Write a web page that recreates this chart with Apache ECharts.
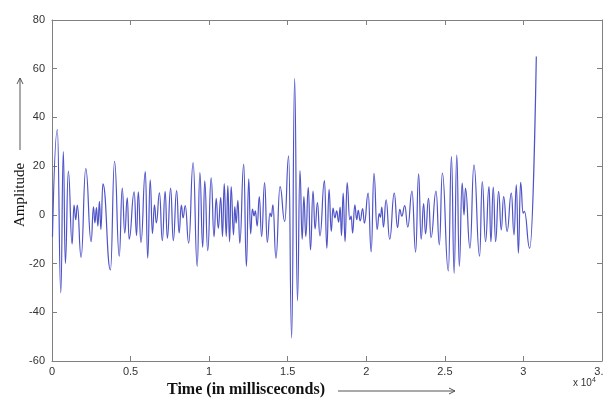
<!DOCTYPE html>
<html>
<head>
<meta charset="utf-8">
<script src="https://cdn.jsdelivr.net/npm/echarts@6/dist/echarts.min.js"></script>
<style>
  html, body { margin: 0; padding: 0; background: #ffffff; }
  #chart { width: 604px; height: 401px; }
</style>
</head>
<body>
<div id="chart"></div>
<script>
// Sample times (ms) of the signal's turning points
const timeMs = [
  30, 340, 560, 720, 850, 1040, 1280, 1400, 1510, 1610,
  1850, 2150, 2490, 2640, 2730, 2830, 2920, 3020, 3110, 3240,
  3720, 3980, 4280, 4470, 4630, 4790, 4910, 5230, 5380, 5490,
  5660, 5940, 6090, 6250, 6390, 6520, 6640, 6840, 7020, 7200,
  7340, 7550, 7720, 7930, 8090, 8230, 8340, 8480, 8700, 8980,
  9240, 9410, 9590, 9720, 9910, 10130, 10310, 10450, 10580, 10740,
  10850, 10960, 11090, 11190, 11300, 11400, 11550, 11630, 11720, 11830,
  11950, 12200, 12370, 12520, 12640, 12750, 12860, 12940, 13060, 13190,
  13340, 13530, 13700, 13870, 13960, 14060, 14250, 14510, 14810, 15060,
  15250, 15440, 15620, 15780, 15920, 16030, 16150, 16310, 16450, 16610,
  16740, 16890, 17050, 17340, 17490, 17630, 17770, 17880, 18000, 18120,
  18240, 18340, 18420, 18530, 18650, 18780, 18950, 19040, 19130, 19270,
  19390, 19490, 19610, 19770, 19880, 20120, 20310, 20490, 20690, 20820,
  20900, 20990, 21090, 21260, 21490, 21780, 21990, 22130, 22260, 22450,
  22640, 22910, 23140, 23330, 23490, 23650, 23770, 23960, 24120, 24440,
  24650, 24840, 25220, 25420, 25590, 25760, 25920, 26100, 26220, 26310,
  26600, 26850, 27210, 27380, 27590, 27810, 27930, 28080, 28230, 28420,
  28590, 28740, 28960, 29230, 29400, 29550, 29680, 29820, 29980, 30060,
  30400, 30820
];

// Amplitude at each of those times
const amplitude = [
  -9, 35, -32, 26, -20, 18, -12, 4, -2, 4,
  -17.5, 19, -11, 3.3, -3.3, 3, -4.6, 5.5, -6, 12.7,
  -22.6, 22, -17, 11, -7.5, 7, -10, 9.4, -8.5, 9.4,
  -11.3, 17.8, -17.8, 14.4, -7.7, 4.1, -3.3, 9, -10.6, 9.7,
  -9.6, 11, -10.6, 10, -7.4, 4, -1.2, 3.8, -11.6, 21.5,
  -21.2, 17.4, -13.3, 14, -14.7, 15.2, -9, 6.8, -5.5, 7.1,
  -8.9, 12.8, -8.9, 12, -11, 11.6, -8.2, 3.4, -3.4, 6,
  -11.6, 20.8, -21.2, 14.8, -7.8, 2.4, -0.4, 1.6, -4.6, 7.5,
  -8.9, 13.2, -11.3, 0.7, -0.7, 4.1, -17.8, 11.6, -2.7, 24.2,
  -50.6, 56, -35.3, 18.2, -10, 7.5, -8.9, 11.3, -14.4, 9.8,
  -5.8, 5, -8.6, 14.1, -13.7, 10.5, -6.8, 2.8, -1.2, 1.6,
  -3, 3.2, -8.5, 8.9, -11, 13.2, -2, -0.5, -7.5, 4.1,
  -2, 1.8, -2.5, 2.6, -3.4, 8.9, -15.2, 17, -6, 0.5,
  -1, 3.2, -5, 6.2, -10, 8.9, -5.2, 2.3, -0.5, 3.8,
  -5, 9.8, -15.3, 16.8, -10, 4.6, -7.8, 6.8, -9.3, 9.8,
  -12.3, 17.1, -23, 24, -24, 24.6, -21.2, 13, 0, 11,
  -13.7, 20.5, -17, 13.7, -11, 11.6, -11, 11.4, -11, 9.6,
  -6.2, 7.5, -6.8, 8.9, -8.2, 12.3, -15.7, 13.3, 0.7, 1.4,
  -13.7, 65
];

// Axis tick values and their printed labels
const xTickValues = [0, 5000, 10000, 15000, 20000, 25000, 30000, 35000];
const xTickLabels = ['0', '0.5', '1', '1.5', '2', '2.5', '3', '3.5'];
const yTickValues = [-60, -40, -20, 0, 20, 40, 60, 80];

const axisGray = '#808080';
const labelFont = "'Liberation Sans', Arial, sans-serif";
const serifFont = "'Liberation Serif', 'Times New Roman', serif";

const chart = echarts.init(document.getElementById('chart'), null, { renderer: 'canvas' });

const xLabel = v => {
  const i = xTickValues.indexOf(v);
  return i >= 0 ? xTickLabels[i] : '';
};

const baseX = {
  type: 'value',
  min: xTickValues[0],
  max: xTickValues[xTickValues.length - 1],
  interval: 5000,
  splitLine: { show: false },
  axisLine: { show: true, onZero: false, lineStyle: { color: axisGray, width: 1 } },
  axisTick: { show: true, inside: true, length: 5, lineStyle: { color: axisGray } }
};
const baseY = {
  type: 'value',
  min: yTickValues[0],
  max: yTickValues[yTickValues.length - 1],
  interval: 20,
  splitLine: { show: false },
  axisLine: { show: true, onZero: false, lineStyle: { color: axisGray, width: 1 } },
  axisTick: { show: true, inside: true, length: 5, lineStyle: { color: axisGray } }
};

chart.setOption({
  animation: false,
  backgroundColor: '#ffffff',
  grid: { left: 52, right: 2, top: 20, bottom: 40, containLabel: false, outerBoundsMode: 'none' },
  xAxis: [
    Object.assign({}, baseX, {
      position: 'bottom',
      axisLabel: { show: true, formatter: xLabel, color: '#333', fontSize: 11, fontFamily: labelFont, margin: 5 }
    }),
    Object.assign({}, baseX, { position: 'top', axisLabel: { show: false } })
  ],
  yAxis: [
    Object.assign({}, baseY, {
      position: 'left',
      axisLabel: { show: true, color: '#333', fontSize: 11, fontFamily: labelFont, margin: 7 }
    }),
    Object.assign({}, baseY, { position: 'right', axisLabel: { show: false } })
  ],
  series: [{
    type: 'line',
    xAxisIndex: 0,
    yAxisIndex: 0,
    data: timeMs.map((t, i) => [t, amplitude[i]]),
    showSymbol: false,
    smooth: 0.5,
    smoothMonotone: 'x',
    lineStyle: { color: '#4f53c8', width: 1.2 },
    clip: true
  }],
  graphic: [
    {
      type: 'text', x: 20, y: 195, rotation: Math.PI / 2,
      style: { text: 'Amplitude', font: "15px " + serifFont, fill: '#111', align: 'center', verticalAlign: 'middle' }
    },
    { type: 'line', shape: { x1: 20, y1: 150, x2: 20, y2: 78 }, style: { stroke: '#555', lineWidth: 1 } },
    { type: 'polyline', shape: { points: [[17, 84], [20, 78], [23, 84]] }, style: { stroke: '#555', lineWidth: 1, fill: null } },
    {
      type: 'text', x: 246, y: 390,
      style: { text: 'Time (in millisceconds)', font: "bold 16px " + serifFont, fill: '#111', align: 'center', verticalAlign: 'middle' }
    },
    { type: 'line', shape: { x1: 338, y1: 391, x2: 455, y2: 391 }, style: { stroke: '#555', lineWidth: 1 } },
    { type: 'polyline', shape: { points: [[449, 388], [455, 391], [449, 394]] }, style: { stroke: '#555', lineWidth: 1, fill: null } },
    {
      type: 'text', x: 573, y: 383,
      style: {
        text: '{b|x 10}{s|4}',
        rich: {
          b: { font: "10px " + labelFont, fill: '#333' },
          s: { font: "7px " + labelFont, fill: '#333', verticalAlign: 'top', padding: [0, 0, 6, 0] }
        },
        verticalAlign: 'middle'
      }
    }
  ]
});
</script>
</body>
</html>
